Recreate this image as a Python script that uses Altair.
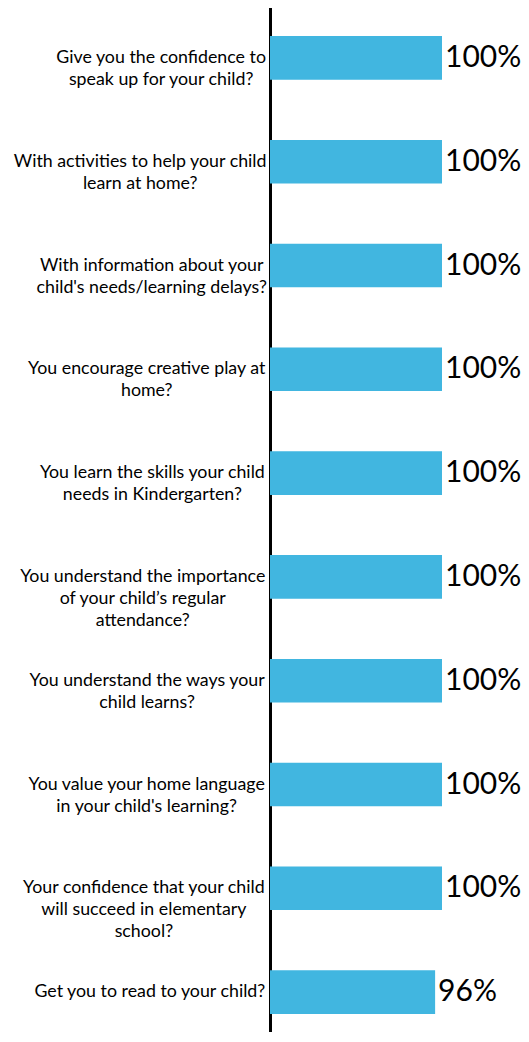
import altair as alt
import pandas as pd

questions = [
    "Give you the confidence to\nspeak up for your child?",
    "With activities to help your child\nlearn at home?",
    "With information about your\nchild's needs/learning delays?",
    "You encourage creative play at\nhome?",
    "You learn the skills your child\nneeds in Kindergarten?",
    "You understand the importance\nof your child\u2019s regular\nattendance?",
    "You understand the ways your\nchild learns?",
    "You value your home language\nin your child's learning?",
    "Your confidence that your child\nwill succeed in elementary\nschool?",
    "Get you to read to your child?",
]
values = [100, 100, 100, 100, 100, 100, 100, 100, 100, 96]
value_labels = ["100%", "100%", "100%", "100%", "100%", "100%", "100%", "100%", "100%", "96%"]

FONT = "Lato"
LABEL_SIZE = 17.8

# approximate Lato advance widths (em) to centre each wrapped label block
CW = {
    "a": .49, "b": .56, "c": .46, "d": .56, "e": .52, "f": .33, "g": .50, "h": .56,
    "i": .24, "j": .24, "k": .50, "l": .24, "m": .84, "n": .56, "o": .56, "p": .55,
    "q": .56, "r": .37, "s": .43, "t": .36, "u": .56, "v": .51, "w": .77, "x": .50,
    "y": .51, "z": .45, " ": .26, "?": .43, "'": .2, "\u2019": .2, "/": .38,
    "G": .71, "W": .98, "Y": .59, "K": .62,
}


def line_w(s):
    return sum(CW.get(ch, .6) for ch in s) * LABEL_SIZE


df = pd.DataFrame({"q": questions, "v": values, "lab": value_labels})
df["blockw"] = [max(line_w(s) for s in q.split("\n")) for q in questions]

ycat = alt.Y("q:N", sort=questions,
             scale=alt.Scale(paddingInner=0.58, paddingOuter=0.29, range=[-2, 1036]),
             axis=alt.Axis(labels=False, ticks=False, title=None, domain=True,
                           domainColor="black", domainWidth=3))
xq = alt.X("v:Q", scale=alt.Scale(domain=[0, 100]), axis=None)

base = alt.Chart(df)

bars = base.mark_bar(color="#41B6E0").encode(x=xq, y=ycat)

vals = base.mark_text(align="left", baseline="middle", dx=3, fontSize=30, font=FONT,
                      color="black").encode(x=xq, y=ycat, text="lab:N")

labels = base.transform_calculate(
    xoff="-4 - datum.blockw / 2"
).mark_text(align="center", baseline="middle", lineBreak="\n", lineHeight=22,
            fontSize=LABEL_SIZE, font=FONT, color="black").encode(
    x=alt.X("xoff:Q", scale=None),
    y=ycat,
    text="q:N",
)

chart = alt.layer(bars, vals, labels).properties(
    width=172, height=1024, autosize="none",
    padding={"left": 262, "top": 0, "right": 79, "bottom": 0},
).configure_view(stroke=None)

chart.save("out.html", embed_options={"renderer": "svg", "actions": False})
